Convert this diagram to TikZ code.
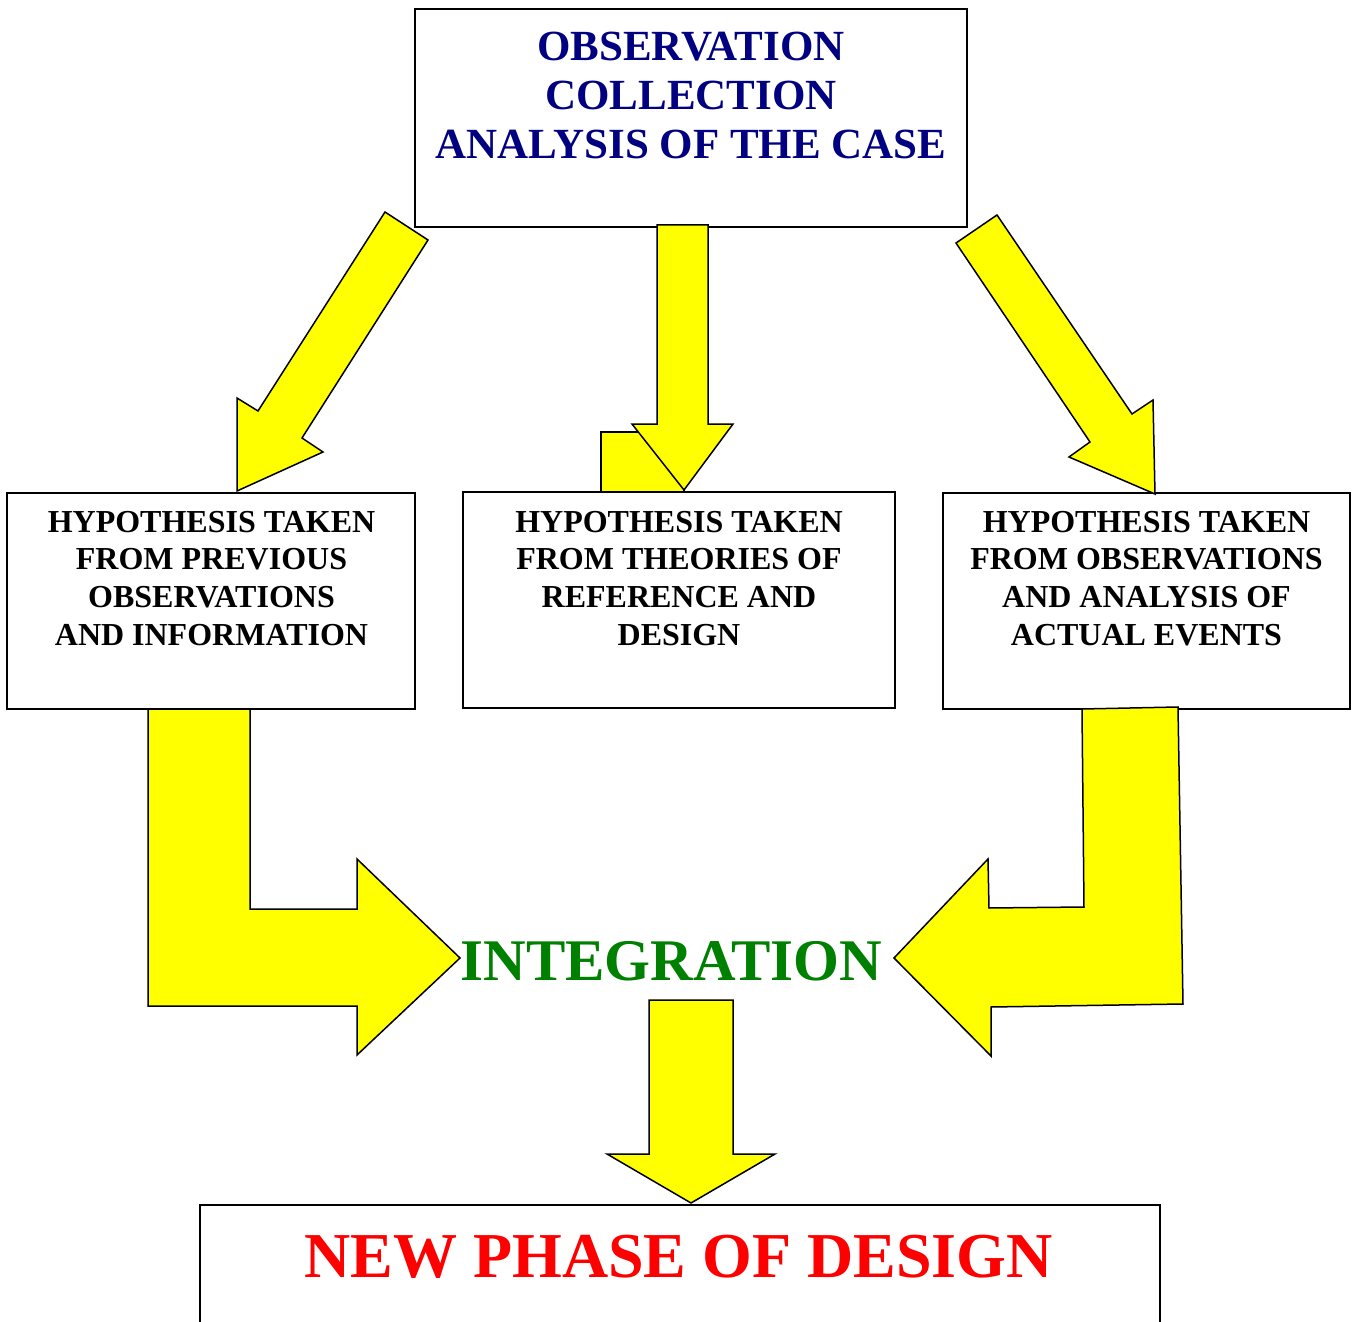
\documentclass[tikz,border=0pt]{standalone}
\usepackage{fontspec}
\setmainfont{Liberation Serif}
\definecolor{arrowyellow}{RGB}{255,255,0}
\definecolor{titleblue}{RGB}{0,0,128}
\definecolor{intgreen}{RGB}{0,128,0}
\definecolor{phasered}{RGB}{255,0,0}
\begin{document}
\begin{tikzpicture}[x=0.5pt,y=-0.5pt,
  frame/.style={draw=black,line width=0.6pt,inner sep=0pt},
  blockarrow/.style={draw=black,fill=arrowyellow,line width=0.75pt,line join=miter},
  boxtext/.style={font=\bfseries\fontsize{16}{18.85}\selectfont,align=center,inner sep=0pt,anchor=north},
  toptext/.style={font=\bfseries\fontsize{21.5}{24.5}\selectfont,align=center,inner sep=0pt,anchor=north,text=titleblue}]

% page area
\clip (0,0) rectangle (1357,1322);

% boxes
\node[frame,minimum width=276pt,minimum height=109pt] (top) at (691,118) {};
\node[frame,minimum width=204pt,minimum height=108pt] (hleft) at (211,601) {};
\node[frame,minimum width=216pt,minimum height=108pt] (hmid) at (679,600) {};
\node[frame,minimum width=203.5pt,minimum height=108pt] (hright) at (1146.5,601) {};
\node[frame,minimum width=480pt,minimum height=130pt] (newphase) at (680,1335) {};

% block arrows from the top box to the three hypothesis boxes
\draw[blockarrow] (385,212) -- (428,240) -- (302,438) -- (323,452) -- (237,491)
  -- (237,398) -- (258,411) -- cycle;
\draw[blockarrow] (997,215) -- (956,243) -- (1090,442) -- (1069,457) -- (1155,494)
  -- (1153,400) -- (1132,414) -- cycle;
\draw[blockarrow] (601,432) rectangle (684,492);
\draw[blockarrow] (657,225) -- (708,225) -- (708,424) -- (733,424) -- (684,490)
  -- (632,424) -- (657,424) -- cycle;

% bent arrows into the integration step
\draw[blockarrow] (148,709) -- (250,709) -- (250,909) -- (357,909) -- (357,859)
  -- (460,958) -- (357,1055) -- (357,1006) -- (148,1006) -- cycle;
\draw[blockarrow] (1082,709) -- (1178,707) -- (1183,1004) -- (991,1007) -- (991,1056)
  -- (894,958) -- (988,859) -- (989,908) -- (1084,907) -- cycle;

% arrow down to the new phase
\draw[blockarrow] (649,1000) -- (733,1000) -- (733,1154) -- (775,1154) -- (691,1203)
  -- (607,1154) -- (649,1154) -- cycle;

% texts
\node[toptext] (toplabel) at (691,31.5) {OBSERVATION\\COLLECTION\\ANALYSIS OF THE CASE};
\node[boxtext] (leftlabel) at (211.5,510.5) {HYPOTHESIS TAKEN\\FROM PREVIOUS\\OBSERVATIONS\\AND INFORMATION};
\node[boxtext] (midlabel) at (679,510.5) {HYPOTHESIS TAKEN\\FROM THEORIES OF\\REFERENCE AND\\DESIGN};
\node[boxtext] (rightlabel) at (1146.5,510.5) {HYPOTHESIS TAKEN\\FROM OBSERVATIONS\\AND ANALYSIS OF\\ACTUAL EVENTS};
\node[anchor=base,inner sep=0pt,text=intgreen,font=\bfseries\fontsize{29.5}{32}\selectfont] (integ) at (671.5,980) {INTEGRATION};
\node[anchor=base,inner sep=0pt,text=phasered,font=\bfseries\fontsize{32}{36}\selectfont] (phaselabel) at (678.5,1277) {NEW PHASE OF DESIGN};
\end{tikzpicture}
\end{document}
